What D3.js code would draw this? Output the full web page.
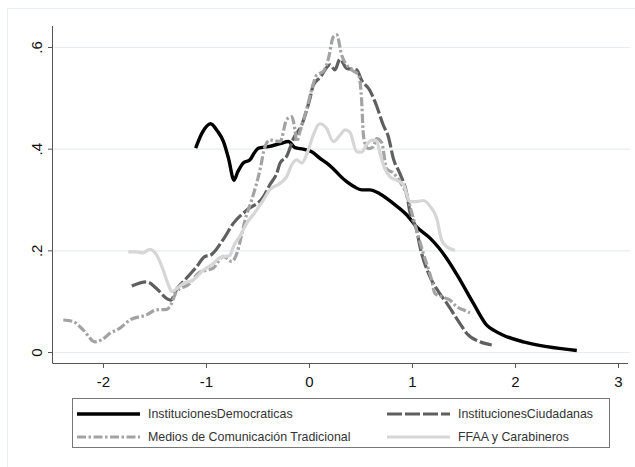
<!DOCTYPE html>
<html>
<head>
<meta charset="utf-8">
<script src="https://cdn.jsdelivr.net/npm/d3@7"></script>
<style>
  body { margin: 0; background: #fff; }
  svg { display: block; font-family: "Liberation Sans", Arial, sans-serif; }
</style>
</head>
<body>
<svg id="chart" width="635" height="467"></svg>
<script>
// kernel density curves as [x, density]
const democraticas = [
  [-1.10,0.401],[-1.04,0.43],[-0.955,0.449],[-0.89,0.435],[-0.83,0.414],[-0.78,0.38],
  [-0.728,0.338],[-0.69,0.355],[-0.638,0.372],[-0.573,0.378],[-0.53,0.392],[-0.49,0.401],
  [-0.395,0.404],[-0.28,0.41],[-0.20,0.414],[-0.136,0.402],[-0.055,0.399],[0.026,0.394],
  [0.107,0.381],[0.17,0.372],[0.233,0.361],[0.30,0.347],[0.366,0.335],[0.44,0.325],
  [0.51,0.319],[0.59,0.319],[0.69,0.311],[0.82,0.292],[0.948,0.27],[1.045,0.246],
  [1.175,0.224],[1.26,0.205],[1.337,0.184],[1.466,0.142],[1.595,0.096],[1.725,0.053],
  [1.80,0.042],[1.886,0.033],[2.08,0.02],[2.31,0.0105],[2.60,0.003]
];
const ciudadanas = [
  [-1.72,0.13],[-1.576,0.138],[-1.48,0.125],[-1.38,0.105],[-1.343,0.102],[-1.28,0.125],
  [-1.19,0.145],[-1.09,0.168],[-1.01,0.188],[-0.96,0.19],[-0.83,0.222],[-0.735,0.253],
  [-0.605,0.279],[-0.44,0.306],[-0.38,0.329],[-0.314,0.351],[-0.28,0.372],[-0.217,0.385],
  [-0.15,0.42],[-0.07,0.447],[0.01,0.499],[0.042,0.525],[0.107,0.54],[0.204,0.565],
  [0.252,0.555],[0.30,0.576],[0.366,0.558],[0.463,0.555],[0.51,0.535],[0.59,0.515],
  [0.657,0.484],[0.72,0.447],[0.77,0.424],[0.82,0.38],[0.883,0.351],[0.948,0.312],
  [0.98,0.275],[1.045,0.24],[1.078,0.207],[1.175,0.148],[1.26,0.118],[1.337,0.096],
  [1.466,0.056],[1.53,0.037],[1.66,0.02],[1.774,0.0138]
];
const medios = [
  [-2.385,0.063],[-2.29,0.06],[-2.19,0.043],[-2.078,0.02],[-2.013,0.024],[-1.93,0.037],
  [-1.835,0.047],[-1.738,0.063],[-1.576,0.073],[-1.48,0.083],[-1.38,0.084],[-1.343,0.092],
  [-1.285,0.119],[-1.155,0.135],[-1.075,0.155],[-0.993,0.161],[-0.93,0.165],[-0.83,0.188],
  [-0.75,0.178],[-0.70,0.194],[-0.66,0.225],[-0.62,0.26],[-0.556,0.299],[-0.476,0.358],
  [-0.427,0.404],[-0.38,0.417],[-0.28,0.414],[-0.217,0.457],[-0.168,0.463],[-0.136,0.437],
  [-0.12,0.414],[-0.087,0.434],[-0.02,0.48],[0.03,0.519],[0.075,0.545],[0.14,0.552],
  [0.19,0.578],[0.236,0.62],[0.27,0.624],[0.317,0.584],[0.366,0.565],[0.414,0.555],
  [0.48,0.545],[0.51,0.499],[0.527,0.43],[0.544,0.41],[0.576,0.40],[0.625,0.404],
  [0.657,0.42],[0.706,0.412],[0.754,0.36],[0.82,0.352],[0.883,0.335],[0.948,0.309],
  [1.013,0.263],[1.11,0.194],[1.19,0.142],[1.223,0.115],[1.288,0.109],[1.369,0.102],
  [1.434,0.089],[1.498,0.083],[1.563,0.077]
];
const ffaa = [
  [-1.754,0.197],[-1.673,0.197],[-1.61,0.195],[-1.544,0.202],[-1.48,0.191],[-1.415,0.161],
  [-1.365,0.132],[-1.333,0.119],[-1.22,0.135],[-1.123,0.142],[-1.026,0.161],[-0.93,0.174],
  [-0.864,0.186],[-0.767,0.19],[-0.735,0.207],[-0.67,0.228],[-0.605,0.253],[-0.508,0.279],
  [-0.444,0.299],[-0.38,0.319],[-0.28,0.332],[-0.217,0.345],[-0.168,0.368],[-0.12,0.378],
  [-0.07,0.372],[-0.007,0.397],[0.042,0.427],[0.107,0.449],[0.17,0.44],[0.236,0.414],
  [0.30,0.426],[0.35,0.437],[0.398,0.432],[0.463,0.394],[0.51,0.393],[0.56,0.408],
  [0.61,0.417],[0.657,0.415],[0.69,0.39],[0.738,0.36],[0.786,0.345],[0.85,0.338],
  [0.916,0.33],[0.98,0.296],[1.045,0.296],[1.11,0.298],[1.175,0.287],[1.24,0.263],
  [1.288,0.22],[1.337,0.207],[1.417,0.20]
];

const seriesNames = ["InstitucionesDemocraticas", "InstitucionesCiudadanas",
                     "Medios de Comunicación Tradicional", "FFAA y Carabineros"];
const xTicks = [-2, -1, 0, 1, 2, 3];
const yTicks = [0, 0.2, 0.4, 0.6];
const yTickLabels = ["0", ".2", ".4", ".6"];

// line styles, same order as seriesNames
const styles = [
  {color: "#000000", width: 3.4, dash: null},
  {color: "#5f5f5f", width: 3.2, dash: "15,3"},
  {color: "#a3a3a3", width: 3.2, dash: "9,2.5,2.5,2.5"},
  {color: "#d6d6d6", width: 3.2, dash: null}
];

const svg = d3.select("#chart");

// faint outer frame of the graph region
svg.append("rect")
  .attr("x", 7.5).attr("y", 8.5)
  .attr("width", 700).attr("height", 600)
  .attr("fill", "none")
  .attr("stroke", "#e8eef1");

const x = d3.scaleLinear().domain([-2.485, 3.097]).range([53, 628]);
const y = d3.scaleLinear().domain([0, 0.6]).range([352, 47]);
const axisY = 363, axisX = 53;

// gridlines
svg.append("g")
  .selectAll("line")
  .data(yTicks)
  .join("line")
  .attr("x1", axisX).attr("x2", 630)
  .attr("y1", d => y(d) + 0.5).attr("y2", d => y(d) + 0.5)
  .attr("stroke", "#e6eef1")
  .attr("stroke-width", 1.2);

// x axis
const gx = svg.append("g")
  .attr("transform", "translate(0," + axisY + ")")
  .call(d3.axisBottom(x).tickValues(xTicks).tickSize(5).tickPadding(8)
    .tickFormat(d3.format("d")));
gx.select(".domain").attr("d", "M" + axisX + ",0.5H628").attr("stroke", "#555");
gx.selectAll(".tick line").attr("stroke", "#555");
gx.selectAll(".tick text")
  .attr("font-size", 15)
  .attr("font-family", "Liberation Sans, Arial, sans-serif")
  .attr("fill", "#111")
  .text(d => d < 0 ? "-" + Math.abs(d) : d);

// y axis
const gy = svg.append("g")
  .attr("transform", "translate(" + axisX + ",0)")
  .call(d3.axisLeft(y).tickValues(yTicks).tickSize(5)
    .tickFormat((d, i) => yTickLabels[i]));
gy.select(".domain").attr("d", "M-0.5,26V" + (axisY + 0.5)).attr("stroke", "#555");
gy.selectAll(".tick line").attr("stroke", "#555");
gy.selectAll(".tick text")
  .attr("font-size", 15)
  .attr("font-family", "Liberation Sans, Arial, sans-serif")
  .attr("fill", "#111")
  .attr("text-anchor", "middle")
  .attr("x", null).attr("dy", null)
  .attr("transform", "translate(-11,0) rotate(-90)");

// density curves
const line = d3.line()
  .x(d => x(d[0]))
  .y(d => y(d[1]))
  .curve(d3.curveMonotoneX);

const data = [democraticas, ciudadanas, medios, ffaa];
svg.append("g")
  .selectAll("path")
  .data(data)
  .join("path")
  .attr("d", line)
  .attr("fill", "none")
  .attr("stroke", (d, i) => styles[i].color)
  .attr("stroke-width", (d, i) => styles[i].width)
  .attr("stroke-dasharray", (d, i) => styles[i].dash)
  .attr("stroke-linejoin", "round");

// legend
const legend = svg.append("g");
legend.append("rect")
  .attr("x", 72.5).attr("y", 398.5)
  .attr("width", 537).attr("height", 49)
  .attr("fill", "#fff")
  .attr("stroke", "#777");

const cols = [77, 387];
const rows = [414, 437];
const item = legend.selectAll("g.item")
  .data(seriesNames)
  .join("g")
  .attr("class", "item")
  .attr("transform", (d, i) => "translate(" + cols[i % 2] + "," + rows[Math.floor(i / 2)] + ")");

item.append("line")
  .attr("x1", 0).attr("x2", 63)
  .attr("stroke", (d, i) => styles[i].color)
  .attr("stroke-width", (d, i) => styles[i].width)
  .attr("stroke-dasharray", (d, i) => styles[i].dash);

item.append("text")
  .attr("x", 71)
  .attr("dy", "0.35em")
  .attr("font-size", 12.4)
  .attr("fill", "#333")
  .text(d => d);
</script>
</body>
</html>
